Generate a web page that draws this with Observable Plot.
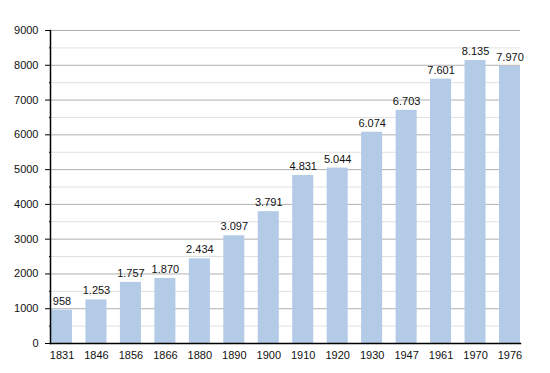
<!DOCTYPE html>
<html><head><meta charset="utf-8">
<script src="https://cdn.jsdelivr.net/npm/d3@7"></script>
<script src="https://cdn.jsdelivr.net/npm/@observablehq/plot@0.6"></script>
<style>body{margin:0;background:#fff}</style>
</head><body><div id="chart"></div>
<script>
const years = ["1831","1846","1856","1866","1880","1890","1900","1910","1920","1930","1947","1961","1970","1976"];
const population = [958,1253,1757,1870,2434,3097,3791,4831,5044,6074,6703,7601,8135,7970];
const labels = ["958","1.253","1.757","1.870","2.434","3.097","3.791","4.831","5.044","6.074","6.703","7.601","8.135","7.970"];
const majorTicks = d3.range(0, 9001, 1000);
const minorTicks = d3.range(500, 9000, 1000);

const data = years.map((y, i) => ({year: y, value: population[i], label: labels[i]}));

const chart = Plot.plot({
  width: 550,
  height: 373,
  marginLeft: 51,
  marginRight: 30,
  marginTop: 30,
  marginBottom: 30,
  style: {fontFamily: "'Liberation Sans', Arial, sans-serif", fontSize: "11px", color: "#111", background: "#fff"},
  x: {domain: years, paddingInner: 0.39, paddingOuter: 0, round: false, label: null},
  y: {domain: [0, 9000], label: null},
  marks: [
    Plot.ruleY(minorTicks, {stroke: "#e0e0e0", strokeWidth: 1, insetLeft: -1}),
    Plot.ruleY(majorTicks, {stroke: "#b0b0b0", strokeWidth: 1, insetLeft: -1}),
    Plot.barY(data, {x: "year", y: "value", fill: "#b3cbe6"}),
    Plot.text(data, {x: "year", y: "value", text: "label", dy: -9, fontSize: 11, fill: "#111"}),
    Plot.axisY(majorTicks, {tickSize: 6, tickPadding: 7, tickFormat: d => String(d), stroke: "#000", fontSize: 11}),
    Plot.axisY(minorTicks, {tickSize: 2, tickFormat: () => "", stroke: "#000"}),
    Plot.axisX({tickSize: 0, tickPadding: 8, fontSize: 11}),
    Plot.frame({anchor: "left", stroke: "#000", strokeWidth: 1.5, insetLeft: -1}),
    Plot.frame({anchor: "bottom", stroke: "#000", strokeWidth: 1.5, insetLeft: -1})
  ]
});
document.getElementById("chart").appendChild(chart);
</script>
</body></html>
